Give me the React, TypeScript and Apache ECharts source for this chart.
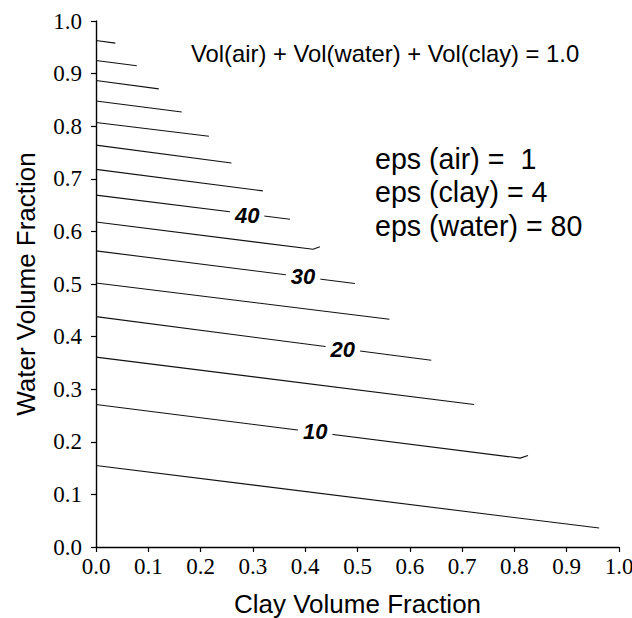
import React, { useEffect, useRef } from "react";
import * as echarts from "echarts";

// Contour levels of the mixture permittivity
const contourLevels = [5, 10, 15, 20, 25, 30, 35, 40, 45, 50, 55, 60, 65, 70, 75];
// Water fraction where each contour meets the left axis (clay = 0)
const contourStartWater = [0.155, 0.271, 0.361, 0.438, 0.502, 0.563, 0.618, 0.669, 0.718, 0.764, 0.807, 0.848, 0.887, 0.925, 0.963];
// Where each contour ends (on the line air = 0)
const contourEndClay = [0.962, 0.811, 0.723, 0.641, 0.561, 0.495, 0.415, 0.371, 0.319, 0.259, 0.216, 0.164, 0.120, 0.078, 0.037];
const contourEndWater = [0.036, 0.169, 0.271, 0.355, 0.433, 0.501, 0.566, 0.623, 0.677, 0.730, 0.781, 0.827, 0.871, 0.915, 0.958];
// Small hooks at the very end of some contours
const hookLevels = [10, 35];
const hookClay = [0.826, 0.428];
const hookWater = [0.174, 0.571];

// Inline contour labels
const labelLevels = [10, 20, 30, 40];
const labelClay = [0.419, 0.472, 0.396, 0.289];
const labelWater = [0.219, 0.376, 0.514, 0.631];

const xTicks = [0, 0.1, 0.2, 0.3, 0.4, 0.5, 0.6, 0.7, 0.8, 0.9, 1.0];
const yTicks = [0, 0.1, 0.2, 0.3, 0.4, 0.5, 0.6, 0.7, 0.8, 0.9, 1.0];

const title = "Vol(air) + Vol(water) + Vol(clay) = 1.0";
const epsLines = ["eps (air) =  1", "eps (clay) = 4", "eps (water) = 80"];

const SANS = "Liberation Sans";
const SERIF = "Liberation Serif";

export default function App() {
  const ref = useRef<HTMLDivElement>(null);

  useEffect(() => {
    if (!ref.current) return;
    const chart = echarts.init(ref.current, undefined, { renderer: "svg" });

    const lineSeries = contourLevels.map((lv, i) => {
      const pts: number[][] = [
        [0, contourStartWater[i]],
        [contourEndClay[i], contourEndWater[i]],
      ];
      const h = hookLevels.indexOf(lv);
      if (h >= 0) pts.push([hookClay[h], hookWater[h]]);
      return {
        type: "line",
        name: String(lv),
        data: pts,
        symbol: "none",
        z: 2,
        lineStyle: { color: "#111", width: 1.1 },
        silent: true,
      };
    });

    const labelSeries = {
      type: "scatter",
      z: 5,
      symbol: "circle",
      symbolSize: 0.1,
      itemStyle: { color: "#fff", opacity: 1 },
      data: labelLevels.map((lv, i) => ({ value: [labelClay[i], labelWater[i]], name: String(lv) })),
      label: {
        show: true,
        position: "inside",
        formatter: (p: any) => p.name,
        fontFamily: SANS,
        fontSize: 22,
        fontWeight: "bold",
        fontStyle: "italic",
        color: "#000",
        opacity: 1,
        backgroundColor: "#fff",
        padding: [0, 5, 0, 5],
      },
      emphasis: { disabled: true },
      silent: true,
    };

    const axisCommon = {
      type: "value",
      min: 0,
      max: 1,
      interval: 0.1,
      splitLine: { show: false },
      axisLine: { show: true, lineStyle: { color: "#000", width: 1.4 } },
      axisTick: { show: true, inside: false, length: 5, lineStyle: { color: "#000", width: 1.2 } },
      nameLocation: "middle",
      nameTextStyle: { fontFamily: SANS, fontSize: 26, color: "#000" },
    };

    chart.setOption({
      animation: false,
      backgroundColor: "#fff",
      grid: { left: 96, right: 13, top: 21, bottom: 71, containLabel: false, outerBoundsMode: "none" },
      xAxis: {
        ...axisCommon,
        name: "Clay Volume Fraction",
        nameGap: 44,
        axisLabel: {
          show: true,
          margin: 8,
          fontFamily: SERIF,
          fontSize: 23,
          color: "#000",
          formatter: (v: number) => {
            const t = xTicks.find((x) => Math.abs(x - v) < 1e-6);
            return (t ?? v).toFixed(1);
          },
        },
      },
      yAxis: {
        ...axisCommon,
        name: "Water Volume Fraction",
        nameGap: 57,
        axisLabel: {
          show: true,
          margin: 14,
          fontFamily: SERIF,
          fontSize: 23,
          color: "#000",
          formatter: (v: number) => {
            const t = yTicks.find((y) => Math.abs(y - v) < 1e-6);
            return (t ?? v).toFixed(1);
          },
        },
      },
      graphic: [
        {
          type: "text",
          left: 191,
          top: 41,
          style: { text: title, fontFamily: SANS, fontSize: 23.8, fill: "#000" },
        },
        ...epsLines.map((t, i) => ({
          type: "text",
          left: 375,
          top: 144 + i * 33.5,
          style: { text: t, fontFamily: SANS, fontSize: 28.6, fill: "#000" },
        })),
      ],
      series: [...lineSeries, labelSeries],
    });

    return () => chart.dispose();
  }, []);

  return (
    <div
      ref={ref}
      style={{ position: "fixed", left: 0, top: 0, width: 632, height: 618, background: "#fff" }}
    />
  );
}
